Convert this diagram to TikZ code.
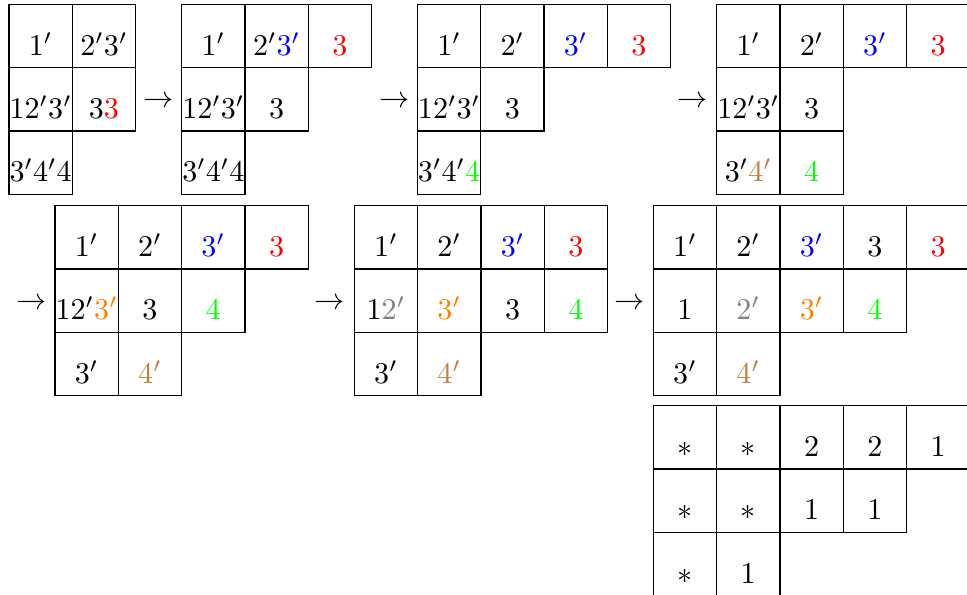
\documentclass[tikz,border=0pt]{standalone}
\usepackage{xcolor}
\newcommand\yc[4]{\node[cellbox] (#1) at ({(#2-0.5)*63.3},{(#3-0.5)*63.3}) {\makebox[0pt]{$#4$}};}
\newcommand\rd[1]{{\color{red}#1}}
\newcommand\bl[1]{{\color{blue}#1}}
\newcommand\gr[1]{{\color{green}#1}}
\newcommand\br[1]{{\color{brown}#1}}
\newcommand\og[1]{{\color{orange}#1}}
\newcommand\gy[1]{{\color{gray}#1}}
\begin{document}
\begin{tikzpicture}[x=0.33175pt,y=-0.33175pt,
  cellbox/.style={draw, line width=0.4pt, inner sep=0pt, minimum width=21pt, minimum height=21pt, text height=16.85pt, text depth=4.15pt},
  arrowlbl/.style={anchor=base, inner sep=0pt}]
\useasboundingbox (0,0) rectangle (967,594);
% T1
\begin{scope}[shift={(9,4.3)}]
\yc{a11}{1}{1}{1'}\yc{a12}{2}{1}{2'3'}
\yc{a21}{1}{2}{12'3'}\yc{a22}{2}{2}{3\rd{3}}
\yc{a31}{1}{3}{3'4'4}
\end{scope}
\node[arrowlbl] (ar1) at (158.5,107.5) {$\to$};
% T2
\begin{scope}[shift={(181.7,4.3)}]
\yc{b11}{1}{1}{1'}\yc{b12}{2}{1}{2'\bl{3'}}\yc{b13}{3}{1}{\rd{3}}
\yc{b21}{1}{2}{12'3'}\yc{b22}{2}{2}{3}
\yc{b31}{1}{3}{3'4'4}
\end{scope}
\node[arrowlbl] (ar2) at (395,107.5) {$\to$};
% T3
\begin{scope}[shift={(417.4,4.3)}]
\yc{c11}{1}{1}{1'}\yc{c12}{2}{1}{2'}\yc{c13}{3}{1}{\bl{3'}}\yc{c14}{4}{1}{\rd{3}}
\yc{c21}{1}{2}{12'3'}\yc{c22}{2}{2}{3}
\yc{c31}{1}{3}{3'4'\gr{4}}
\end{scope}
\node[arrowlbl] (ar3) at (693,107.5) {$\to$};
% T4
\begin{scope}[shift={(716.7,4.3)}]
\yc{d11}{1}{1}{1'}\yc{d12}{2}{1}{2'}\yc{d13}{3}{1}{\bl{3'}}\yc{d14}{4}{1}{\rd{3}}
\yc{d21}{1}{2}{12'3'}\yc{d22}{2}{2}{3}
\yc{d31}{1}{3}{3'\br{4'}}\yc{d32}{2}{3}{\gr{4}}
\end{scope}
% T5
\node[arrowlbl] (ar4) at (32,309.2) {$\to$};
\begin{scope}[shift={(55,205.7)}]
\yc{e11}{1}{1}{1'}\yc{e12}{2}{1}{2'}\yc{e13}{3}{1}{\bl{3'}}\yc{e14}{4}{1}{\rd{3}}
\yc{e21}{1}{2}{12'\og{3'}}\yc{e22}{2}{2}{3}\yc{e23}{3}{2}{\gr{4}}
\yc{e31}{1}{3}{3'}\yc{e32}{2}{3}{\br{4'}}
\end{scope}
\node[arrowlbl] (ar5) at (330,309.2) {$\to$};
% T6
\begin{scope}[shift={(354.3,205.7)}]
\yc{f11}{1}{1}{1'}\yc{f12}{2}{1}{2'}\yc{f13}{3}{1}{\bl{3'}}\yc{f14}{4}{1}{\rd{3}}
\yc{f21}{1}{2}{1\gy{2'}}\yc{f22}{2}{2}{\og{3'}}\yc{f23}{3}{2}{3}\yc{f24}{4}{2}{\gr{4}}
\yc{f31}{1}{3}{3'}\yc{f32}{2}{3}{\br{4'}}
\end{scope}
\node[arrowlbl] (ar6) at (629.7,309.2) {$\to$};
% T7
\begin{scope}[shift={(653.3,205.7)}]
\yc{g11}{1}{1}{1'}\yc{g12}{2}{1}{2'}\yc{g13}{3}{1}{\bl{3'}}\yc{g14}{4}{1}{3}\yc{g15}{5}{1}{\rd{3}}
\yc{g21}{1}{2}{1}\yc{g22}{2}{2}{\gy{2'}}\yc{g23}{3}{2}{\og{3'}}\yc{g24}{4}{2}{\gr{4}}
\yc{g31}{1}{3}{3'}\yc{g32}{2}{3}{\br{4'}}
\end{scope}
% T8
\begin{scope}[shift={(653.3,405.7)}]
\yc{h11}{1}{1}{*}\yc{h12}{2}{1}{*}\yc{h13}{3}{1}{2}\yc{h14}{4}{1}{2}\yc{h15}{5}{1}{1}
\yc{h21}{1}{2}{*}\yc{h22}{2}{2}{*}\yc{h23}{3}{2}{1}\yc{h24}{4}{2}{1}
\yc{h31}{1}{3}{*}\yc{h32}{2}{3}{1}
\end{scope}
\end{tikzpicture}
\end{document}
